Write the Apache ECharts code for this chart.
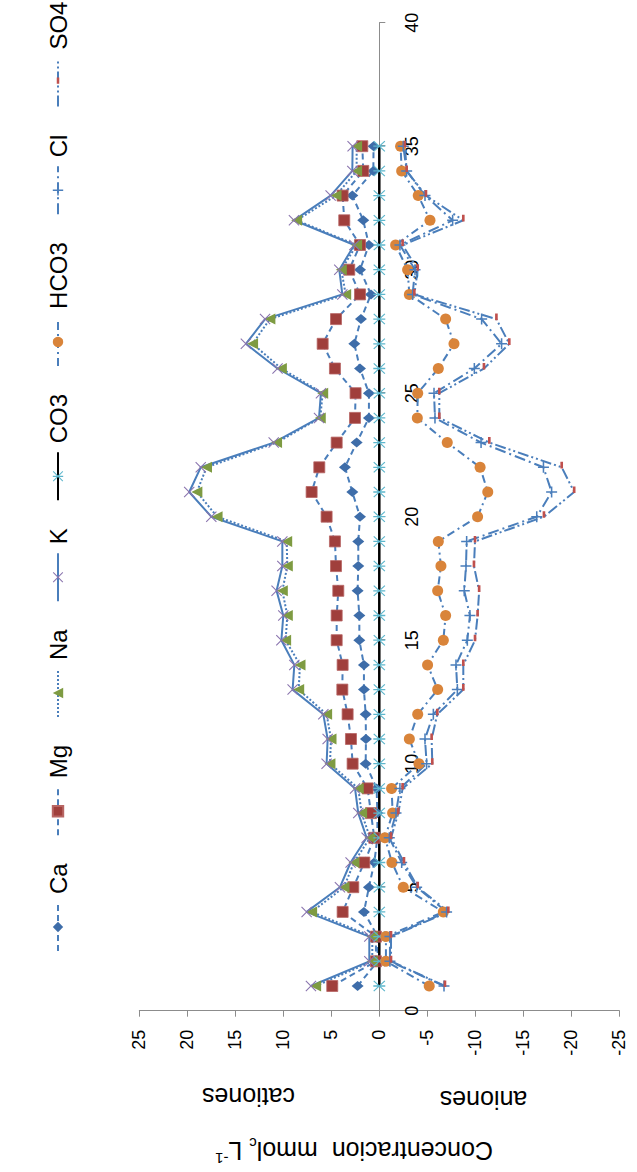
<!DOCTYPE html>
<html><head><meta charset="utf-8">
<script src="https://cdn.jsdelivr.net/npm/echarts@6/dist/echarts.min.js"></script>
<style>
html,body{margin:0;padding:0;background:#fff;overflow:hidden;width:637px;height:1172px;}
#wrap{position:absolute;left:0;top:0;width:1172px;height:637px;transform-origin:0 0;transform:translate(0,1172px) rotate(-90deg);background:#fff;}
</style></head><body>
<div id="wrap"></div>
<script>
// ---- data (sample number vs concentration, mmolc/L) ----
const sampleNo = [1,2,3,4,5,6,7,8,9,10,11,12,13,14,15,16,17,18,19,20,21,22,23,24,25,26,27,28,29,30,31,32,33,34,35];
const Ca   = [2.26,0.17,0.17,1.6,1.08,0.52,0.2,0.2,0.28,1.42,1.39,1.42,1.6,1.6,2.08,2.08,2.26,2.19,2.19,2.01,2.81,3.58,2.36,1.08,1.08,2.01,2.6,1.91,0.87,2.01,1.08,1.67,2.81,0.62,0.6];
const Mg   = [4.9,0.35,0.35,3.82,2.71,1.56,0.52,0.87,1.22,2.78,2.95,3.3,3.85,3.82,4.44,4.44,4.27,4.51,4.62,5.49,7.05,6.25,4.44,2.53,2.47,4.62,5.9,4.51,2.01,3.13,2.01,3.65,3.82,1.67,1.77];
const Na   = [6.63,0.73,0.73,7.05,3.68,2.64,0.97,1.84,2.19,5.14,5.03,5.49,8.4,8.26,9.76,9.58,10.1,9.58,9.65,16.9,19.0,18.0,10.7,6.15,5.9,10.2,13.2,11.4,3.5,3.96,2.36,8.61,4.51,2.36,2.36];
const K    = [7.12,1.04,1.04,7.57,4.1,2.99,1.32,2.19,2.53,5.49,5.38,5.83,9.03,8.85,10.2,10.0,10.7,10.1,10.1,17.5,19.8,18.6,11.0,6.28,6.08,10.6,13.9,11.9,3.85,4.17,2.6,8.89,5.07,2.81,2.78];
const CO3  = [0,0,0,0,0,0,0,0,0,0,0,0,0,0,0,0,0,0,0,0,0,0,0,0,0,0,0,0,0,0,0,0,0,0,0];
const HCO3 = [-5.2,-0.69,-0.69,-6.67,-2.5,-1.32,-0.59,-1.39,-1.28,-4.13,-3.13,-4.0,-6.08,-5.03,-6.67,-6.91,-6.08,-6.42,-6.15,-10.24,-11.3,-10.5,-7.08,-3.96,-4.0,-6.15,-7.78,-6.91,-3.13,-2.95,-1.7,-5.28,-4.06,-2.33,-2.22];
const Cl   = [-6.74,-1.11,-1.11,-7.01,-3.89,-2.33,-1.04,-1.74,-2.15,-4.93,-4.76,-5.63,-8.13,-7.99,-9.17,-9.44,-8.85,-9.03,-9.1,-16.4,-17.95,-17.1,-10.6,-5.8,-5.7,-9.9,-12.74,-10.66,-3.47,-3.72,-2.15,-7.64,-4.76,-2.85,-2.5];
const SO4  = [-6.84,-1.22,-1.22,-7.19,-4.0,-2.57,-1.22,-1.98,-2.43,-5.52,-5.45,-6.04,-8.75,-8.75,-9.97,-10.24,-10.4,-9.86,-9.97,-17.15,-20.3,-19.0,-11.46,-6.25,-6.25,-10.9,-13.54,-12.2,-3.65,-4.0,-2.43,-8.75,-4.86,-2.85,-2.67];
const seriesNames = ['Ca','Mg','Na','K','CO3','HCO3','Cl','SO4'];
const xTicks = {min:0, max:40, interval:5};
const yTicks = {min:-25, max:25, interval:5};

const FONT = 'Liberation Sans, Arial, sans-serif';
const LINE = '#4A7EBB';
const SYM_X = 'path://M0,0.7L0.7,0L5,4.3L9.3,0L10,0.7L5.7,5L10,9.3L9.3,10L5,5.7L0.7,10L0,9.3L4.3,5Z';
const SYM_STAR = 'path://M0,0.7L0.7,0L5,4.3L9.3,0L10,0.7L5.7,5L10,9.3L9.3,10L5,5.7L0.7,10L0,9.3L4.3,5ZM4.4,0L5.6,0L5.6,10L4.4,10Z';
const SYM_PLUS = 'path://M4.3,0L5.7,0L5.7,4.3L10,4.3L10,5.7L5.7,5.7L5.7,10L4.3,10L4.3,5.7L0,5.7L0,4.3L4.3,4.3Z';
const SYM_DASH = 'path://M0,0L0.01,0L0.01,0.01ZM4,3.8L10,3.8L10,6.2L4,6.2ZM10,10L9.99,10L9.99,9.99Z';

function mk(name, vals, o) {
  return Object.assign({
    name: name, type: 'line',
    data: sampleNo.map((s, i) => [s, vals[i]]),
    symbolSize: 11,
    lineStyle: {color: LINE, width: 2},
    emphasis: {disabled: true},
    silent: true
  }, o);
}

const series = [
  mk('Ca', Ca, {symbol:'diamond', symbolSize:[10,12], itemStyle:{color:'#3E6DA9'}, lineStyle:{color:LINE,width:2,type:[6,4]}}),
  mk('Mg', Mg, {symbol:'rect', symbolSize:11, itemStyle:{color:'#A03F3C', borderColor:'#B86664', borderWidth:0.8}, lineStyle:{color:LINE,width:2,type:[6,4]}}),
  mk('Na', Na, {symbol:'triangle', symbolSize:11, itemStyle:{color:'#7E9B42'}, lineStyle:{color:LINE,width:2,type:[2,2]}}),
  mk('K', K, {symbol:SYM_X, symbolSize:11, itemStyle:{color:'#8A74AE'}, lineStyle:{color:LINE,width:2,type:'solid'}}),
  mk('CO3', CO3, {symbol:SYM_STAR, symbolSize:[11,12], itemStyle:{color:'#5DB6CC'}, lineStyle:{color:'#000',width:2.5,type:'solid'}}),
  mk('HCO3', HCO3, {symbol:'circle', symbolSize:11, itemStyle:{color:'#D9843A'}, lineStyle:{color:LINE,width:2,type:[8,4,2,4]}}),
  mk('Cl', Cl, {symbol:SYM_PLUS, symbolSize:11, itemStyle:{color:'#4A7EBB'}, lineStyle:{color:LINE,width:2,type:[11,4,2,4]}}),
  mk('SO4', SO4, {symbol:SYM_DASH, symbolSize:11, itemStyle:{color:'#C0504D'}, lineStyle:{color:LINE,width:2,type:[11,3,2,3,2,3]}})
];

const chart = echarts.init(document.getElementById('wrap'), null, {renderer:'svg', width:1172, height:637});
chart.setOption({
  animation: false,
  backgroundColor: '#fff',
  textStyle: {fontFamily: FONT},
  grid: {left:161.3, right:22.7, top:139.3, bottom:17.7, containLabel:false, outerBoundsMode:'none'},
  legend: {
    data: seriesNames,
    left: 220, top: 44, padding: 0,
    itemWidth: 48, itemHeight: 13, itemGap: 27,
    textStyle: {fontSize: 24, color: '#000', fontFamily: FONT, lineHeight: 28, padding: [0,0,0,4]},
    selectedMode: false
  },
  xAxis: {
    type: 'value', min: xTicks.min, max: xTicks.max, interval: xTicks.interval,
    position: 'bottom', offset: -240,
    axisLine: {show: true, onZero: false, lineStyle: {color: '#8C8C8C', width: 1}},
    axisTick: {show: true, length: 6, lineStyle: {color: '#8C8C8C'}},
    axisLabel: {fontSize: 18, color: '#000', margin: 24, fontFamily: FONT},
    splitLine: {show: false}
  },
  yAxis: {
    type: 'value', min: yTicks.min, max: yTicks.max, interval: yTicks.interval,
    position: 'left',
    axisLine: {show: true, onZero: false, lineStyle: {color: '#8C8C8C', width: 1}},
    axisTick: {show: true, length: 6, lineStyle: {color: '#8C8C8C'}},
    axisLabel: {fontSize: 18, color: '#000', margin: 19, fontFamily: FONT},
    splitLine: {show: false}
  },
  graphic: [
    {type:'text', x:75.5, y:248.5, rotation:Math.PI/2,
     style:{text:'cationes', fontSize:25, fontFamily:FONT, fill:'#000', align:'center', verticalAlign:'middle'}},
    {type:'text', x:72, y:483.5, rotation:Math.PI/2,
     style:{text:'aniones', fontSize:25, fontFamily:FONT, fill:'#000', align:'center', verticalAlign:'middle'}},
    {type:'text', x:21.5, y:354, rotation:Math.PI/2,
     style:{text:'{a|Concentracion  mmol}{b|c}{a| L}{c|-1}', align:'center', verticalAlign:'middle', fill:'#000',
       rich:{
         a:{fontSize:25, fontFamily:FONT, fill:'#000', lineHeight:30, verticalAlign:'middle'},
         b:{fontSize:15, fontFamily:FONT, fill:'#000', lineHeight:30, verticalAlign:'bottom'},
         c:{fontSize:15, fontFamily:FONT, fill:'#000', lineHeight:30, verticalAlign:'top'}
       }}}
  ],
  series: series
});
</script>
</body></html>
